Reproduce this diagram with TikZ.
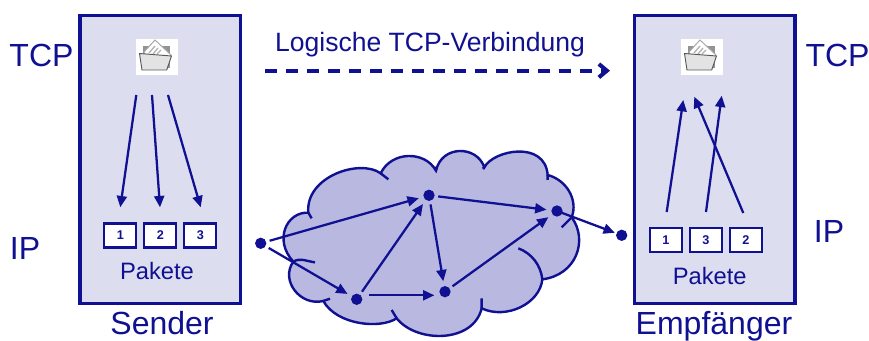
\documentclass[tikz,border=0pt]{standalone}
\usepackage{fontspec}
\setmainfont{Liberation Sans}
\usetikzlibrary{arrows.meta}
\definecolor{netblue}{RGB}{16,16,146}
\definecolor{boxfill}{RGB}{221,221,240}
\definecolor{cloudfill}{RGB}{184,184,224}
\tikzset{
    host-box/.style = {draw=netblue, fill=boxfill, line width=2.4pt, rectangle, inner sep=0pt, minimum width=120.5pt, minimum height=216pt},
    packet-box/.style = {draw=netblue, fill=white, line width=1.6pt, rectangle, inner sep=0pt, minimum width=24pt, minimum height=18pt, text=netblue, font=\fontsize{9.5}{10}\selectfont\bfseries},
    layer-label/.style = {anchor=base, inner sep=0pt, text=netblue, font=\fontsize{24}{25}\selectfont},
    packet-label/.style = {anchor=base, inner sep=0pt, text=netblue, font=\fontsize{17.8}{18}\selectfont},
    link-label/.style = {anchor=base, inner sep=0pt, text=netblue, font=\fontsize{19.9}{20}\selectfont},
    net-dot/.style = {circle, fill=netblue, inner sep=0pt, minimum size=8.5pt},
    flow-arrow/.style = {draw=netblue, line width=1.7pt, -{Triangle[length=8.5pt,width=7.5pt]}},
    link-arrow/.style = {flow-arrow, shorten <=2.5pt, shorten >=3.5pt},
    cloud-line/.style = {draw=netblue, line width=1.8pt},
    folder/.pic = {
        \fill[white] (-21,-18) rectangle (21,18);
        \fill[gray!85] (-14,-11) rectangle (13,11);
        \draw[gray!70, fill=white, line width=.7pt] (-13,-5) -- (-2,-17) -- (14,-2) -- (10,4) -- (-10,4) -- cycle;
        \draw[gray!60, line width=1pt] (-8,-4) -- (-2,-11) (-4,-3) -- (1,-9) (0,-3) -- (4,-7);
        \draw[gray!70!black, fill=gray!22, line width=.7pt] (-17.5,-3.5) -- (14.5,-1) -- (9.7,13) -- (-15,13) -- cycle;
    },
}
\begin{document}
\begin{tikzpicture}[x=0.75pt, y=-0.75pt]
\useasboundingbox (0,0) rectangle (869,341);

% sender and receiver
\node [host-box] (sender) at (160.3,159.3) {};
\node [host-box] (receiver) at (714.7,159.3) {};
\pic at (157,57) {folder};
\pic at (702,57) {folder};

\node [packet-box] (s1) at (120.3,235.5) {1};
\node [packet-box] (s2) at (160.3,235.5) {2};
\node [packet-box] (s3) at (200.3,235.5) {3};
\node [packet-box] (r1) at (666,240) {1};
\node [packet-box] (r3) at (706,240) {3};
\node [packet-box] (r2) at (746,240) {2};

\node [packet-label] (pakete-s) at (157,280) {Pakete};
\node [packet-label] (pakete-r) at (709.7,285) {Pakete};
\node [layer-label] (sender-name) at (162,335) {Sender};
\node [layer-label] (receiver-name) at (714,335) {Empfänger};
\node [layer-label] (tcp-s) at (41.5,66.7) {TCP};
\node [layer-label] (ip-s) at (25,260) {IP};
\node [layer-label] (tcp-r) at (837.5,66.7) {TCP};
\node [layer-label] (ip-r) at (829,243) {IP};
\node [link-label] (tcp-link) at (430,52) {Logische TCP-Verbindung};

% free arrow ends
\coordinate (a1) at (136.3,95);
\coordinate (a2) at (152,95);
\coordinate (a3) at (168,95);
\coordinate (b1) at (120.3,207.3);
\coordinate (b2) at (160,207.3);
\coordinate (b3) at (200.7,207.3);
\coordinate (c1) at (666.7,212);
\coordinate (c2) at (706,212);
\coordinate (c3) at (743.3,213);
\coordinate (d1) at (683.3,100);
\coordinate (d2) at (721.7,95.7);
\coordinate (d3) at (694.3,96.7);
\coordinate (link-start) at (265,70.7);
\coordinate (link-end) at (610,70.7);

\foreach \from/\to in {a1/b1, a2/b2, a3/b3, c1/d1, c2/d2, c3/d3}
    \draw [flow-arrow] (\from) -- (\to);
\draw [draw=netblue, line width=3pt, dash pattern=on 9pt off 6.75pt, -{Straight Barb[length=6pt,width=10pt]}] (link-start) -- (link-end);

% cloud, in units of a third of a pixel
\begin{scope}[shift={(250,140)}, x=0.25pt, y=-0.25pt]
\draw [cloud-line, fill=cloudfill] (175,218)
    .. controls (165,110) and (330,55) .. (392,100)
    .. controls (425,32) and (525,32) .. (558,92)
    .. controls (575,15) and (680,15) .. (703,82)
    .. controls (730,30) and (885,0) .. (893,105)
    .. controls (950,120) and (985,180) .. (965,232)
    .. controls (1015,300) and (980,405) .. (877,418)
    .. controls (870,490) and (770,540) .. (695,505)
    .. controls (670,610) and (500,610) .. (440,535)
    .. controls (390,568) and (260,555) .. (220,483)
    .. controls (150,500) and (90,420) .. (130,365)
    .. controls (70,300) and (110,215) .. cycle;
\draw [cloud-line] (175,218) -- (185,235)
    (392,100) -- (415,118)
    (558,92) -- (556,80)
    (703,82) -- (698,86)
    (893,105) -- (893,120)
    (965,232) -- (935,262)
    (877,418) .. controls (872,375) and (845,340) .. (805,325)
    (695,505) -- (695,475)
    (440,535) -- (425,510)
    (220,483) -- (240,476)
    (130,365) .. controls (150,352) and (175,365) .. (195,367);
\end{scope}

% routers
\node [net-dot] (n-in) at (260.7,243.3) {};
\node [net-dot] (n-low) at (356.7,299.3) {};
\node [net-dot] (n-mid) at (445,291.7) {};
\node [net-dot] (n-top) at (429,195.3) {};
\node [net-dot] (n-out) at (557,211) {};
\node [net-dot] (n-dest) at (621.7,235.3) {};

\foreach \from/\to in {n-in/n-top, n-in/n-low, n-low/n-top, n-top/n-mid, n-top/n-out, n-mid/n-out}
    \draw [link-arrow] (\from) -- (\to);
\draw [flow-arrow, shorten >=3.5pt, shorten <=5pt] ([yshift=3pt]n-low.east) -- ([yshift=-2.7pt]n-mid.west);
\draw [flow-arrow, shorten <=-1pt, shorten >=1pt] (n-out) -- (n-dest);
\end{tikzpicture}
\end{document}
